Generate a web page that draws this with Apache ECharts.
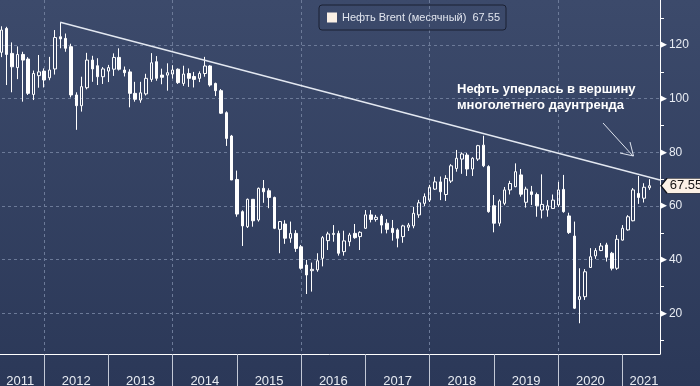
<!DOCTYPE html>
<html>
<head>
<meta charset="utf-8">
<script src="https://cdn.jsdelivr.net/npm/echarts@6/dist/echarts.min.js"></script>
<style>
html,body{margin:0;padding:0;}
#c{width:700px;height:386px;background:linear-gradient(to bottom,#3c4a6b 0%,#2b3858 100%);}
</style>
</head>
<body>
<div id="c"></div>
<script>
// ---- data (monthly Brent OHLC, Mar 2011 .. May 2021) ----
const seriesName = 'Нефть Brent (месячный)';
const opens = [
  111.8,117.3,126.2,116.9,111.6,116.5,114.8,101.6,108.6,110.3,
  107.8,111.1,123.1,122.5,119.4,101.4,97.4,104.1,114.4,112.3,108.2,110.3,
  111.0,115.4,110.7,110.0,102.0,99.5,101.8,107.2,113.8,108.8,108.8,109.2,
  111.0,105.7,109.4,108.3,107.6,109.4,112.2,105.7,103.0,94.8,86.1,69.9,
  57.9,52.3,62.5,54.8,66.6,65.7,63.2,51.3,53.3,48.0,49.8,44.8,
  38.0,35.9,36.2,40.5,47.1,49.4,49.8,43.0,46.7,49.8,48.6,51.7,
  56.7,55.0,56.3,53.6,51.7,51.1,48.6,52.1,52.6,56.7,61.0,62.2,
  66.3,69.0,64.3,69.3,74.0,77.5,79.0,73.8,77.5,82.7,74.7,60.1,
  53.6,61.0,66.0,67.2,71.6,61.4,65.3,64.3,58.5,58.5,59.1,60.4,
  66.2,56.3,48.8,25.2,26.2,37.1,41.4,43.4,45.5,42.4,36.8,47.3,
  51.1,54.5,64.7,62.9,66.8
];
const highs = [
  117.4,127.0,126.8,121.0,119.5,117.5,115.5,110.5,116.3,111.3,
  115.6,125.6,128.5,124.3,120.5,102.4,108.2,117.1,116.0,115.1,111.8,112.6,
  116.9,118.8,112.0,111.0,106.3,106.3,109.3,117.0,115.9,111.2,113.2,112.5,
  111.3,112.3,111.3,110.0,110.2,115.6,112.5,106.0,103.6,95.3,86.5,73.2,
  58.4,62.8,62.6,66.9,69.7,66.6,63.5,54.4,54.7,54.2,51.0,45.5,
  39.9,38.9,42.4,48.8,50.4,52.9,50.8,50.8,50.0,53.3,50.6,58.5,
  58.5,56.7,57.0,55.1,54.8,51.7,53.0,53.7,59.7,62.3,64.7,67.9,
  70.9,71.0,71.5,75.6,80.9,80.0,79.8,78.2,82.8,86.2,75.2,64.1,
  62.5,67.1,69.4,75.9,73.8,67.2,67.5,65.0,71.8,62.2,64.3,69.0,
  71.6,57.5,54.2,36.8,36.5,44.3,44.3,46.2,46.3,42.9,49.2,52.9,
  56.6,66.7,71.2,68.5,70.0
];
const lows = [
  98.7,115.5,105.1,102.4,107.3,98.9,101.4,99.5,104.1,104.2,
  106.9,109.0,118.8,117.5,100.5,88.4,95.2,103.5,106.3,105.1,105.5,106.2,
  108.5,110.5,108.3,96.8,98.9,98.5,101.2,106.3,106.7,105.4,103.0,107.5,
  105.5,104.8,104.4,104.2,106.2,108.2,104.5,101.0,94.3,82.4,69.7,56.0,
  45.1,51.8,52.3,54.2,61.2,59.2,51.4,42.4,45.9,46.3,42.9,36.3,
  27.2,28.1,35.5,37.5,43.6,46.7,41.5,41.5,45.0,47.8,43.6,51.5,
  53.9,54.2,49.8,49.8,47.1,44.6,46.3,50.7,51.7,55.6,60.0,61.5,
  66.0,62.2,61.9,68.6,72.8,72.0,71.2,71.2,76.8,74.5,57.5,50.2,
  52.5,60.3,64.3,67.0,63.5,59.4,60.4,56.0,55.4,56.0,58.9,59.6,
  57.5,49.6,21.6,16.3,25.0,36.9,40.3,43.2,39.3,36.0,36.2,47.1,
  50.8,54.3,60.8,61.3,66.0
];
const closes = [
  117.4,125.6,116.5,111.9,116.5,114.4,102.0,109.4,110.0,107.0,
  110.7,122.8,122.3,118.8,101.4,97.4,104.5,114.4,111.1,108.2,111.1,111.6,
  115.4,111.0,109.7,102.0,99.8,102.2,107.6,113.4,107.6,108.0,109.7,110.7,
  106.0,109.2,107.6,107.2,109.4,112.2,105.1,103.0,94.6,85.2,69.7,57.0,
  52.6,62.5,54.5,66.6,65.3,63.2,51.7,54.2,48.0,49.8,44.2,36.8,
  34.3,36.4,39.6,48.2,49.6,49.8,42.4,47.0,49.2,48.2,50.2,56.7,
  55.0,55.8,52.9,51.3,50.1,48.0,52.6,52.9,57.3,61.2,63.5,67.0,
  69.0,65.3,70.3,75.0,77.8,79.4,73.8,77.8,82.5,75.0,57.9,53.6,
  61.9,66.0,68.4,72.8,64.4,66.3,64.3,60.1,60.6,60.1,62.2,66.0,
  57.9,50.1,21.9,26.2,35.5,41.1,43.4,45.1,40.9,36.8,47.6,51.7,
  56.0,66.0,63.2,67.0,67.55
];
// month categories Mar 2011 .. Jul 2021 (axis runs a little past the last candle)
const categories = [];
for (let y = 2011; y <= 2021; y++) {
  for (let m = 1; m <= 12; m++) {
    if ((y === 2011 && m < 3) || (y === 2021 && m > 7)) continue;
    categories.push(y + '-' + String(m).padStart(2, '0'));
  }
}
const yearLabels = ['2011','2012','2013','2014','2015','2016','2017','2018','2019','2020','2021'];
const yearLabelMonths = ['2011-08','2012-06','2013-06','2014-06','2015-06','2016-06','2017-06','2018-06','2019-06','2020-06','2021-04'];
const gridMonths = ['2011-12','2013-12','2015-12','2017-12','2019-12'];
const trendStart = ['2012-03', 128.5];
const trendEnd = ['2021-07', 69.7];
const annotation = ['Нефть уперлась в вершину', 'многолетнего даунтренда'];

// ---- chart ----
const FONT = '"Liberation Sans", Arial, sans-serif';
const candles = opens.map((o, i) => [o, closes[i], lows[i], highs[i]]);
const lastClose = closes[closes.length - 1];
const lastCat = categories[categories.length - 1];

const chart = echarts.init(document.getElementById('c'), null, {renderer: 'canvas'});
chart.setOption({
  animation: false,
  backgroundColor: 'transparent',
  grid: {left: -4, right: 40, top: 0, bottom: 32, containLabel: false, outerBoundsMode: 'none'},
  legend: {
    left: 319, top: 5,
    padding: [7, 6, 7, 8],
    itemWidth: 10, itemHeight: 10,
    icon: 'rect',
    selectedMode: false,
    borderColor: '#1a2033', borderWidth: 1, borderRadius: 3,
    textStyle: {color: '#e2e6ef', fontSize: 11, fontFamily: FONT},
    formatter: name => name + '  ' + lastClose.toFixed(2),
    data: [{name: seriesName, itemStyle: {color: '#fbf1e6', borderWidth: 0}}]
  },
  xAxis: {
    type: 'category',
    data: categories,
    boundaryGap: false,
    axisLine: {show: true, lineStyle: {color: '#ffffff', width: 1}},
    axisTick: {
      show: true, length: 34,
      interval: (i, v) => v.endsWith('-12'),
      lineStyle: {color: '#c3c9d6', width: 1}
    },
    axisLabel: {
      show: true,
      interval: (i, v) => yearLabelMonths.indexOf(v) >= 0,
      formatter: (v) => {
        const k = yearLabelMonths.indexOf(v);
        if (k < 0) return '';
        return k === 0 ? '{s|' + yearLabels[k] + '}' : yearLabels[k];
      },
      rich: {s: {padding: [0, 5, 0, 0], color: '#e8ecf3', fontSize: 13, fontFamily: FONT}},
      color: '#e8ecf3', fontSize: 13, fontFamily: FONT, margin: 21
    },
    splitLine: {
      show: true,
      interval: (i, v) => gridMonths.indexOf(v) >= 0,
      lineStyle: {color: '#6c7a98', type: [3, 3], width: 1}
    }
  },
  yAxis: {
    type: 'value',
    position: 'right',
    min: 4.84, max: 136.8,
    splitNumber: 6, minInterval: 20, maxInterval: 20,
    axisLine: {show: true, lineStyle: {color: '#ffffff', width: 1}},
    axisTick: {show: false},
    minorTick: {show: true, splitNumber: 2, length: 4, lineStyle: {color: '#ffffff', width: 1}},
    axisLabel: {
      margin: 0,
      showMinLabel: false, showMaxLabel: false,
      formatter: v => '{t|▶}{n|' + v + '}',
      rich: {
        t: {fontSize: 9, color: '#ffffff', fontFamily: '"DejaVu Sans"'},
        n: {fontSize: 12, color: '#e8ecf3', fontFamily: FONT, padding: [0, 0, 0, 2]}
      }
    },
    splitLine: {
      show: true, showMinLine: false, showMaxLine: false,
      lineStyle: {color: '#6c7a98', type: [3, 3], width: 1}
    }
  },
  series: [{
    type: 'candlestick',
    name: seriesName,
    data: candles,
    barWidth: 3,
    itemStyle: {
      color: 'rgba(0,0,0,0)', color0: '#ffffff',
      borderColor: '#ffffff', borderColor0: '#ffffff', borderWidth: 1
    },
    markLine: {
      silent: true,
      symbol: ['none', 'none'],
      label: {show: false},
      lineStyle: {color: '#e3e8f1', width: 1.5, type: 'solid'},
      data: [[{coord: trendStart}, {coord: trendEnd}]]
    },
    markPoint: {
      silent: true,
      symbol: 'path://M0,7.5L6,0L46,0L46,15L6,15Z',
      symbolSize: [46, 15],
      symbolOffset: [24, 0],
      itemStyle: {color: '#fbf1e6', borderColor: '#10131c', borderWidth: 1},
      label: {show: true, position: 'inside', formatter: lastClose.toFixed(2),
               color: '#141414', fontSize: 13, fontFamily: FONT, offset: [2, 0]},
      data: [{coord: [lastCat, lastClose]}]
    }
  }],
  graphic: [
    {type: 'text', left: 457, top: 81, z: 10,
     style: {text: annotation.join('\n'), fill: '#ffffff', font: 'bold 13px "Liberation Sans", Arial, sans-serif', lineHeight: 16}},
    {type: 'line', z: 10, shape: {x1: 603, y1: 123, x2: 633, y2: 156},
     style: {stroke: '#dfe4ee', lineWidth: 1}},
    {type: 'polyline', z: 10, shape: {points: [[630, 142], [633.5, 156], [620, 153]]},
     style: {stroke: '#dfe4ee', lineWidth: 1, fill: null}}
  ]
});
</script>
</body>
</html>
